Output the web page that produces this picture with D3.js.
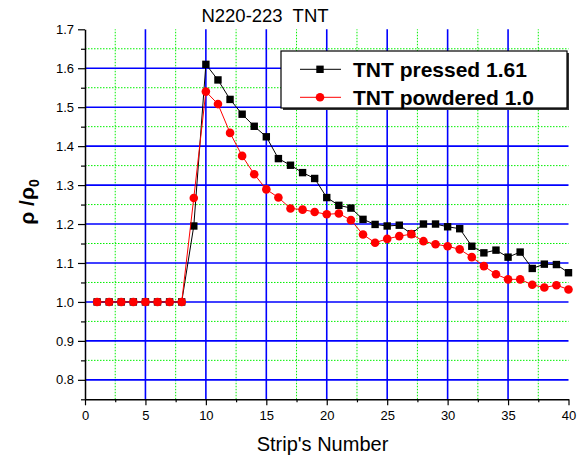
<!DOCTYPE html>
<html><head><meta charset="utf-8">
<script src="https://cdn.jsdelivr.net/npm/d3@7"></script>
<style>body{margin:0;background:#fff}svg{display:block}text{font-family:"Liberation Sans",Arial,sans-serif}</style>
</head><body>
<script>
const strips = d3.range(1, 41);
const pressed = [1.0,1.0,1.0,1.0,1.0,1.0,1.0,1.0,1.195,1.61,1.57,1.52,1.482,1.451,1.424,1.368,1.351,1.332,1.317,1.268,1.248,1.241,1.212,1.199,1.195,1.197,1.175,1.200,1.200,1.193,1.188,1.143,1.126,1.133,1.115,1.128,1.086,1.097,1.096,1.075];
const powdered = [1.0,1.0,1.0,1.0,1.0,1.0,1.0,1.0,1.267,1.54,1.508,1.434,1.375,1.328,1.289,1.268,1.240,1.237,1.231,1.225,1.227,1.210,1.173,1.152,1.162,1.169,1.174,1.156,1.148,1.143,1.135,1.115,1.092,1.071,1.058,1.058,1.044,1.037,1.043,1.032];
const xMajor = [0,5,10,15,20,25,30,35,40];
const xMinor = [2.5,7.5,12.5,17.5,22.5,27.5,32.5,37.5];
const yMajor = [0.8,0.9,1.0,1.1,1.2,1.3,1.4,1.5,1.6,1.7];
const yMinor = [0.75,0.85,0.95,1.05,1.15,1.25,1.35,1.45,1.55,1.65];
const seriesNames = ["TNT pressed 1.61","TNT powdered 1.0"];

const W=587,H=460;
const svg=d3.select("body").append("svg").attr("width",W).attr("height",H);
const x=d3.scaleLinear().domain([0,40]).range([85,568.5]);
const y=d3.scaleLinear().domain([0.75,1.7]).range([399.3,29.3]);

// grid
const g=svg.append("g");
g.selectAll(".gx").data(xMinor).join("line").attr("x1",d=>x(d)).attr("x2",d=>x(d)).attr("y1",y(0.75)).attr("y2",y(1.7))
 .attr("stroke","#00f000").attr("stroke-width",1).attr("stroke-dasharray","1.5,1.5");
g.selectAll(".gy").data(yMinor.filter(v=>v>0.76)).join("line").attr("y1",d=>y(d)).attr("y2",d=>y(d)).attr("x1",x(0)).attr("x2",x(40))
 .attr("stroke","#00f000").attr("stroke-width",1).attr("stroke-dasharray","1.5,1.5");
g.selectAll(".Gx").data(xMajor.filter(v=>v>0&&v<40)).join("line").attr("x1",d=>x(d)).attr("x2",d=>x(d)).attr("y1",y(0.75)).attr("y2",y(1.7))
 .attr("stroke","#0000ff").attr("stroke-width",1.6);
g.selectAll(".Gy").data(yMajor.filter(v=>v<1.69)).join("line").attr("y1",d=>y(d)).attr("y2",d=>y(d)).attr("x1",x(0)).attr("x2",x(40))
 .attr("stroke","#0000ff").attr("stroke-width",1.6);

// axes
const xAx=svg.append("g").attr("transform",`translate(0,${y(0.75)})`);
xAx.call(d3.axisBottom(x).tickValues(xMajor).tickSize(6).tickSizeOuter(0).tickPadding(5).tickFormat(d3.format("d")));
xAx.append("g").call(d3.axisBottom(x).tickValues(xMinor).tickSize(3).tickFormat("")).select(".domain").remove();
const yAx=svg.append("g").attr("transform",`translate(${x(0)},0)`);
yAx.call(d3.axisLeft(y).tickValues(yMajor).tickSize(7).tickSizeOuter(0).tickPadding(4).tickFormat(d3.format(".1f")));
yAx.append("g").call(d3.axisLeft(y).tickValues(yMinor).tickSize(4).tickFormat("")).select(".domain").remove();
svg.selectAll(".domain").attr("stroke","#000").attr("stroke-width",1.5);
svg.selectAll(".tick line").attr("stroke","#000").attr("stroke-width",1.2);
svg.selectAll(".tick text").attr("font-size",13).attr("fill","#000").style("font-family","'Liberation Sans',Arial,sans-serif");

// lines
const line=d3.line().x((d,i)=>x(strips[i])).y(d=>y(d));
svg.append("path").datum(pressed).attr("d",line).attr("fill","none").attr("stroke","#000").attr("stroke-width",1);
svg.selectAll(".sq").data(pressed).join("rect").attr("x",(d,i)=>x(strips[i])-3.7).attr("y",d=>y(d)-3.7).attr("width",7.4).attr("height",7.4).attr("fill","#000");
svg.append("path").datum(powdered).attr("d",line).attr("fill","none").attr("stroke","#ff0000").attr("stroke-width",1);
svg.selectAll(".ci").data(powdered).join("circle").attr("cx",(d,i)=>x(strips[i])).attr("cy",d=>y(d)).attr("r",4.3).attr("fill","#ff0000");

// legend
const L=svg.append("g");
L.append("rect").attr("x",283).attr("y",53).attr("width",286).attr("height",57).attr("fill","#333");
L.append("rect").attr("x",281).attr("y",51).attr("width",286).attr("height",57).attr("fill","#fff").attr("stroke","#000").attr("stroke-width",1.2);
const rows=[{n:seriesNames[0],c:"#000",s:"sq",yy:69.3},{n:seriesNames[1],c:"#ff0000",s:"ci",yy:97.3}];
rows.forEach(r=>{
  L.append("line").attr("x1",300).attr("x2",341).attr("y1",r.yy).attr("y2",r.yy).attr("stroke",r.c).attr("stroke-width",1);
  if(r.s==="sq") L.append("rect").attr("x",320-3.7).attr("y",r.yy-3.7).attr("width",7.4).attr("height",7.4).attr("fill",r.c);
  else L.append("circle").attr("cx",320).attr("cy",r.yy).attr("r",4.3).attr("fill",r.c);
  L.append("text").attr("x",353).attr("y",r.yy+7.5).attr("font-size",21).attr("font-weight","bold").text(r.n);
});

// titles
svg.append("text").attr("x",265).attr("y",22).attr("text-anchor","middle").attr("font-size",18.5).attr("xml:space","preserve").text("N220-223  TNT");
svg.append("text").attr("x",322.5).attr("y",451).attr("text-anchor","middle").attr("font-size",20).text("Strip's Number");
const yl=svg.append("text").attr("transform","translate(34,202) rotate(-90)").attr("text-anchor","middle").attr("font-size",21).attr("font-weight","bold");
yl.append("tspan").text("ρ /ρ");
yl.append("tspan").attr("font-size",14).attr("dy",5).text("0");
</script>
</body></html>
